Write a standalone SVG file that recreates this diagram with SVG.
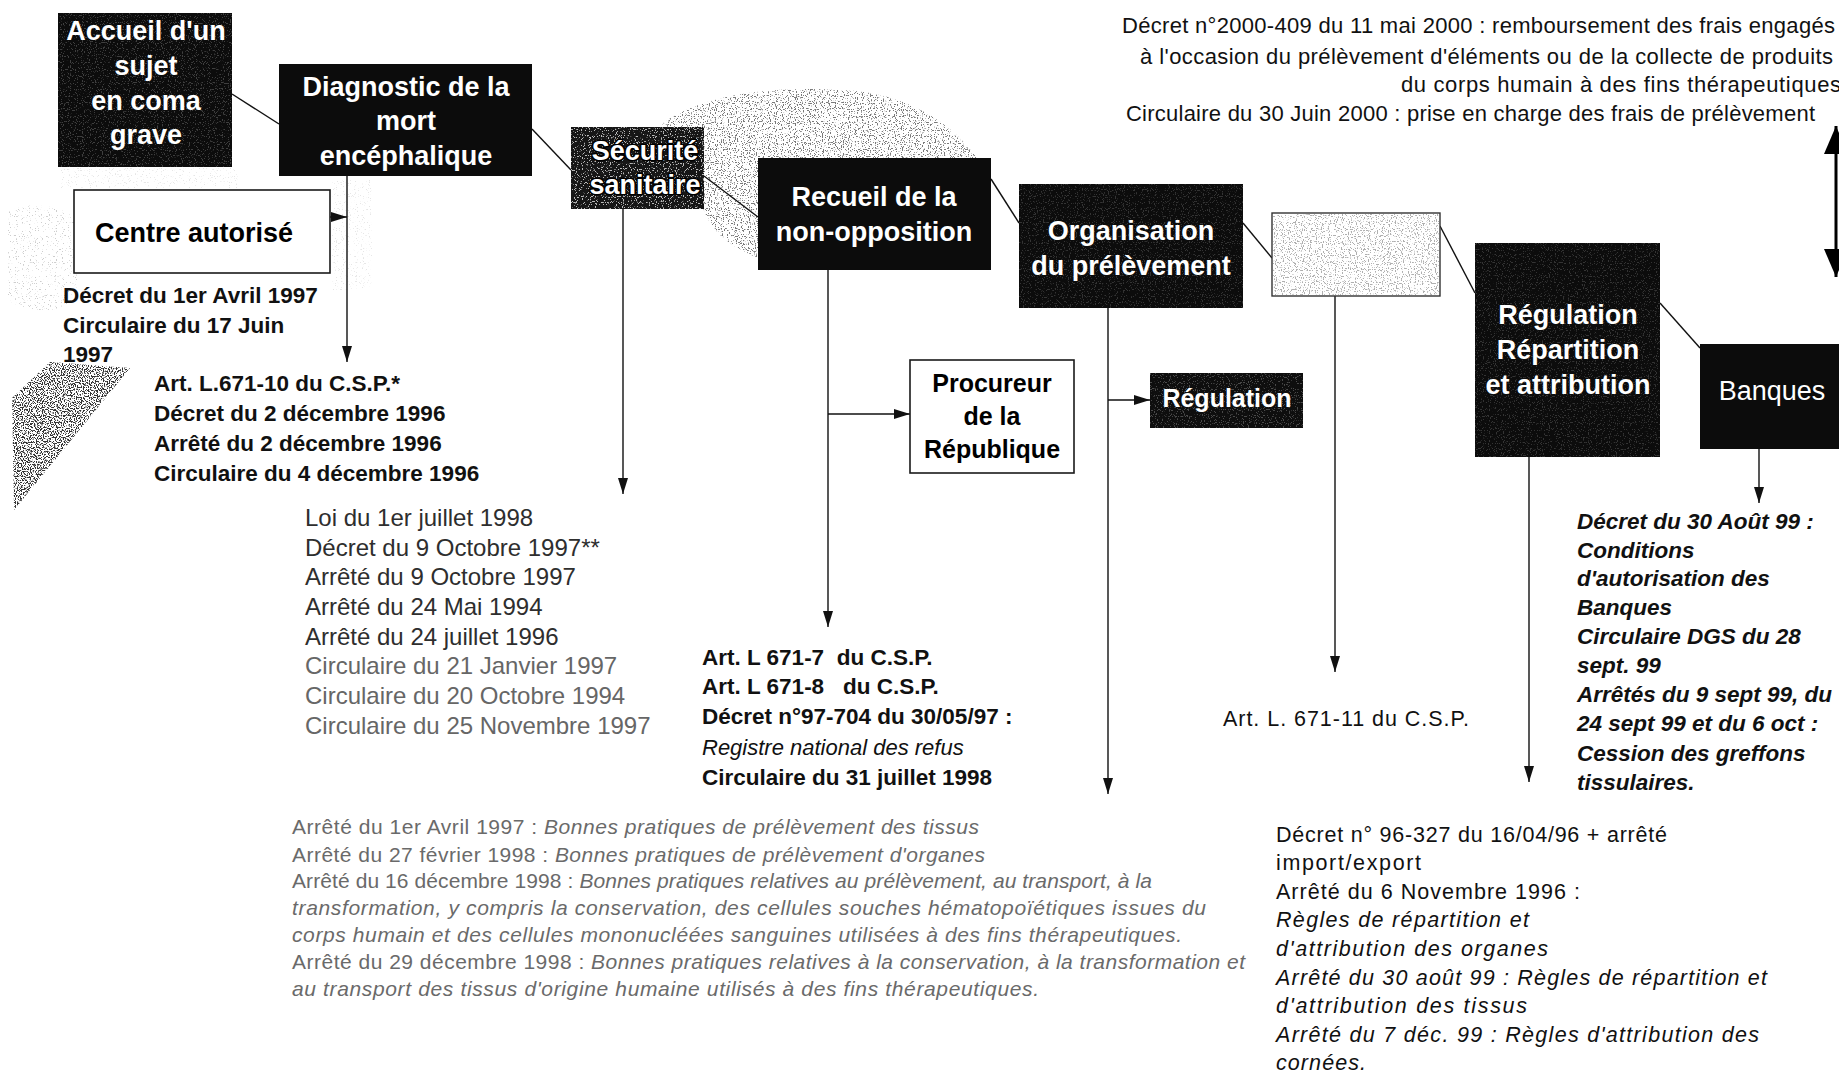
<svg xmlns="http://www.w3.org/2000/svg" width="1839" height="1074" viewBox="0 0 1839 1074">
<defs>
<style>
text{font-family:"Liberation Sans",Arial,Helvetica,sans-serif}
.dk{fill:#0c0c0c}
.wb{fill:#fff;stroke:#1a1a1a;stroke-width:1.6}
.nl{font-size:27px;font-weight:bold;fill:#fff;text-anchor:middle}
.nlr{font-size:27px;fill:#fff;text-anchor:middle}
.nlb{font-size:25px;font-weight:bold;fill:#000;text-anchor:middle}
.c{stroke:#111;stroke-width:1.4;fill:none}
.ca{stroke:#111;stroke-width:1.4;fill:none;marker-end:url(#ah)}
.tb{font-size:22.5px;font-weight:bold;fill:#111}
.tr{font-size:21.5px;fill:#111}
.ti{font-style:italic}
.g1{font-size:24px;fill:#2e2e2e}
.g2{font-size:24px;fill:#666}
.bt{font-size:21px;fill:#6a6a6a}
.bi{font-size:22.5px;font-weight:bold;font-style:italic;fill:#111}
.top{font-size:22px;fill:#111}
</style>
<marker id="ah" markerUnits="userSpaceOnUse" markerWidth="16" markerHeight="10" refX="16" refY="5" orient="auto"><path d="M0,0 L16,5 L0,10 Z" fill="#111"/></marker>
<marker id="big" markerUnits="userSpaceOnUse" markerWidth="28" markerHeight="24" refX="28" refY="12" orient="auto-start-reverse"><path d="M0,0 L28,12 L0,24 Z" fill="#000"/></marker>
<filter id="fDark" x="0" y="0" width="1" height="1" color-interpolation-filters="sRGB">
<feTurbulence type="fractalNoise" baseFrequency="0.85" numOctaves="1" seed="3"/>
<feColorMatrix type="matrix" values="0 0 0 0 0.2 0 0 0 0 0.2 0 0 0 0 0.2 0 0 0 14 -7.0"/>
<feComposite in2="SourceGraphic" operator="in"/>
</filter>
<filter id="fMid" x="0" y="0" width="1" height="1" color-interpolation-filters="sRGB">
<feTurbulence type="fractalNoise" baseFrequency="0.85" numOctaves="1" seed="9"/>
<feColorMatrix type="matrix" values="0 0 0 0 0.3 0 0 0 0 0.3 0 0 0 0 0.3 0 0 0 14 -7.9"/>
<feComposite in2="SourceGraphic" operator="in"/>
</filter>
<filter id="fSparse" x="0" y="0" width="1" height="1" color-interpolation-filters="sRGB">
<feTurbulence type="fractalNoise" baseFrequency="0.85" numOctaves="1" seed="5"/>
<feColorMatrix type="matrix" values="0 0 0 0 0.35 0 0 0 0 0.35 0 0 0 0 0.35 0 0 0 14 -8.9"/>
<feComposite in2="SourceGraphic" operator="in"/>
</filter>
<filter id="fLight" x="0" y="0" width="1" height="1" color-interpolation-filters="sRGB">
<feTurbulence type="fractalNoise" baseFrequency="0.85" numOctaves="1" seed="11"/>
<feColorMatrix type="matrix" values="0 0 0 0 0.85 0 0 0 0 0.85 0 0 0 0 0.85 0 0 0 14 -8.2"/>
<feComposite in2="SourceGraphic" operator="in"/>
</filter>
</defs>
<rect width="1839" height="1074" fill="#fff"/>

<g id="textures">
<path d="M702,205 C690,160 680,135 662,124 C700,95 770,86 840,90 C910,92 965,128 990,180 L758,180 L758,258 C735,248 712,236 702,205 Z" fill="#000" fill-opacity="0.75" filter="url(#fMid)"/>
<path d="M8,212 C30,200 62,205 76,220 L78,300 C60,312 30,315 8,300 Z" fill="#000" fill-opacity="0.3" filter="url(#fSparse)"/>
<polygon points="50,362 130,368 14,510 12,398" fill="#000" filter="url(#fDark)"/>
<rect x="60" y="168" width="180" height="20" fill="#000" fill-opacity="0.15" filter="url(#fSparse)"/>
<rect x="332" y="180" width="40" height="110" fill="#000" fill-opacity="0.15" filter="url(#fSparse)"/>
</g>

<g id="connectors">
<line class="c" x1="232" y1="94" x2="279" y2="124"/>
<line class="c" x1="532" y1="129" x2="571" y2="170"/>
<line class="c" x1="704" y1="176" x2="758" y2="217"/>
<line class="c" x1="991" y1="179" x2="1019" y2="223"/>
<line class="c" x1="1243" y1="223" x2="1272" y2="258"/>
<line class="c" x1="1440" y1="226" x2="1475" y2="293"/>
<line class="c" x1="1660" y1="303" x2="1700" y2="348"/>
<line class="ca" x1="330" y1="217" x2="347" y2="217"/>
<line class="ca" x1="347" y1="176" x2="347" y2="362"/>
<line class="ca" x1="623" y1="209" x2="623" y2="494"/>
<line class="ca" x1="828" y1="270" x2="828" y2="627"/>
<line class="ca" x1="828" y1="414" x2="910" y2="414"/>
<line class="ca" x1="1108" y1="308" x2="1108" y2="794"/>
<line class="ca" x1="1108" y1="400" x2="1150" y2="400"/>
<line class="ca" x1="1335" y1="296" x2="1335" y2="672"/>
<line class="ca" x1="1529" y1="457" x2="1529" y2="782"/>
<line class="ca" x1="1759" y1="449" x2="1759" y2="503"/>
<line x1="1836" y1="277" x2="1836" y2="126" stroke="#000" stroke-width="3" marker-start="url(#big)" marker-end="url(#big)"/>
</g>

<g id="n-accueil">
<rect class="dk" x="58" y="13" width="174" height="154"/>
<rect x="58" y="13" width="174" height="154" fill="#000" fill-opacity="0.25" filter="url(#fLight)"/>
<text class="nl"><tspan x="146" y="40">Accueil d'un</tspan><tspan x="146" y="75">sujet</tspan><tspan x="146" y="110">en coma</tspan><tspan x="146" y="144">grave</tspan></text>
</g>

<g id="n-diagnostic">
<rect class="dk" x="279" y="64" width="253" height="112"/>
<text class="nl"><tspan x="406" y="96">Diagnostic de la</tspan><tspan x="406" y="130">mort</tspan><tspan x="406" y="165">encéphalique</tspan></text>
</g>

<g id="n-centre">
<rect class="wb" x="74" y="190" width="256" height="83"/>
<text class="nlb" style="font-size:27px" x="194" y="242">Centre autorisé</text>
</g>

<g id="n-securite">
<rect x="571" y="127" width="133" height="82" fill="#161616"/>
<rect x="571" y="127" width="133" height="82" fill="#000" fill-opacity="0.85" filter="url(#fLight)"/>
<text class="nl" stroke="#000" stroke-width="3" paint-order="stroke" stroke-linejoin="round"><tspan x="645" y="160">Sécurité</tspan><tspan x="645" y="194">sanitaire</tspan></text>
</g>

<g id="n-recueil">
<rect class="dk" x="758" y="158" width="233" height="112"/>
<text class="nl"><tspan x="874" y="206">Recueil de la</tspan><tspan x="874" y="241">non-opposition</tspan></text>
</g>

<g id="n-procureur">
<rect class="wb" x="910" y="360" width="164" height="113"/>
<text class="nlb"><tspan x="992" y="392">Procureur</tspan><tspan x="992" y="425">de la</tspan><tspan x="992" y="458">République</tspan></text>
</g>

<g id="n-organisation">
<rect class="dk" x="1019" y="184" width="224" height="124"/>
<rect x="1019" y="184" width="224" height="124" fill="#000" fill-opacity="0.2" filter="url(#fLight)"/>
<text class="nl"><tspan x="1131" y="240">Organisation</tspan><tspan x="1131" y="275">du prélèvement</tspan></text>
</g>

<g id="n-regulation">
<rect x="1150" y="373" width="153" height="55" fill="#0e0e0e"/>
<rect x="1150" y="373" width="153" height="55" fill="#000" fill-opacity="0.3" filter="url(#fLight)"/>
<text class="nl" style="font-size:25px" x="1227" y="407">Régulation</text>
</g>

<g id="n-blank">
<rect x="1272" y="213" width="168" height="83" fill="#fff" stroke="#333" stroke-width="1.4"/>
<rect x="1273" y="214" width="166" height="81" fill="#000" fill-opacity="0.45" filter="url(#fMid)"/>
</g>

<g id="n-repartition">
<rect class="dk" x="1475" y="243" width="185" height="214"/>
<rect x="1475" y="243" width="185" height="214" fill="#000" fill-opacity="0.2" filter="url(#fLight)"/>
<text class="nl"><tspan x="1568" y="324">Régulation</tspan><tspan x="1568" y="359">Répartition</tspan><tspan x="1568" y="394">et attribution</tspan></text>
</g>

<g id="n-banques">
<rect class="dk" x="1700" y="344" width="145" height="105"/>
<text class="nlr" x="1772" y="400">Banques</text>
</g>

<g id="text-top">
<text class="top" x="1122" y="33" textLength="713">Décret n°2000-409 du 11 mai 2000 : remboursement des frais engagés</text>
<text class="top" x="1140" y="64" textLength="693">à l'occasion du prélèvement d'éléments ou de la collecte de produits</text>
<text class="top" x="1401" y="92" textLength="440">du corps humain à des fins thérapeutiques</text>
<text class="top" x="1126" y="121" textLength="689">Circulaire du 30 Juin 2000 : prise en charge des frais de prélèvement</text>
</g>

<g id="text-centre">
<text class="tb"><tspan x="63" y="303">Décret du 1er Avril 1997</tspan><tspan x="63" y="333">Circulaire du 17 Juin</tspan><tspan x="63" y="362">1997</tspan></text>
</g>

<g id="text-diagnostic">
<text class="tb"><tspan x="154" y="391">Art. L.671-10 du C.S.P.*</tspan><tspan x="154" y="421">Décret du 2 décembre 1996</tspan><tspan x="154" y="451">Arrêté du 2 décembre 1996</tspan><tspan x="154" y="481">Circulaire du 4 décembre 1996</tspan></text>
</g>

<g id="text-securite">
<text class="g1"><tspan x="305" y="526">Loi du 1er juillet 1998</tspan><tspan x="305" y="556">Décret du 9 Octobre 1997**</tspan><tspan x="305" y="585">Arrêté du 9 Octobre 1997</tspan><tspan x="305" y="615">Arrêté du 24 Mai 1994</tspan><tspan x="305" y="645">Arrêté du 24 juillet 1996</tspan></text>
<text class="g2"><tspan x="305" y="674">Circulaire du 21 Janvier 1997</tspan><tspan x="305" y="704">Circulaire du 20 Octobre 1994</tspan><tspan x="305" y="734">Circulaire du 25 Novembre 1997</tspan></text>
</g>

<g id="text-recueil">
<text class="tb" xml:space="preserve" x="702" y="665">Art. L 671-7  du C.S.P.</text>
<text class="tb" xml:space="preserve" x="702" y="694">Art. L 671-8   du C.S.P.</text>
<text class="tb" x="702" y="724">Décret n°97-704 du 30/05/97 :</text>
<text class="tr ti" style="font-size:22px" x="702" y="755">Registre national des refus</text>
<text class="tb" x="702" y="785">Circulaire du 31 juillet 1998</text>
</g>

<g id="text-organisation">
<text class="bt" x="292" y="834" textLength="687">Arrêté du 1er Avril 1997 : <tspan class="ti">Bonnes pratiques de prélèvement des tissus</tspan></text>
<text class="bt" x="292" y="862" textLength="693">Arrêté du 27 février 1998 : <tspan class="ti">Bonnes pratiques de prélèvement d'organes</tspan></text>
<text class="bt" x="292" y="888" textLength="860">Arrêté du 16 décembre 1998 : <tspan class="ti">Bonnes pratiques relatives au prélèvement, au transport, à la</tspan></text>
<text class="bt ti" x="292" y="915" textLength="914">transformation, y compris la conservation, des cellules souches hématopoïétiques issues du</text>
<text class="bt ti" x="292" y="942" textLength="890">corps humain et des cellules mononucléées sanguines utilisées à des fins thérapeutiques.</text>
<text class="bt" x="292" y="969" textLength="953">Arrêté du 29 décembre 1998 : <tspan class="ti">Bonnes pratiques relatives à la conservation, à la transformation et</tspan></text>
<text class="bt ti" x="292" y="996" textLength="747">au transport des tissus d'origine humaine utilisés à des fins thérapeutiques.</text>
</g>

<g id="text-blank">
<text class="tr" x="1223" y="726" textLength="246">Art. L. 671-11 du C.S.P.</text>
</g>

<g id="text-repartition">
<text class="tr" x="1276" y="842" textLength="391">Décret n° 96-327 du 16/04/96 + arrêté</text>
<text class="tr" x="1276" y="870" textLength="145">import/export</text>
<text class="tr" x="1276" y="899" textLength="304">Arrêté du 6 Novembre 1996 :</text>
<text class="tr ti" x="1276" y="927" textLength="253">Règles de répartition et</text>
<text class="tr ti" x="1276" y="956" textLength="272">d'attribution des organes</text>
<text class="tr ti" x="1276" y="985" textLength="491">Arrêté du 30 août 99 : Règles de répartition et</text>
<text class="tr ti" x="1276" y="1013" textLength="251">d'attribution des tissus</text>
<text class="tr ti" x="1276" y="1042" textLength="483">Arrêté du 7 déc. 99 : Règles d'attribution des</text>
<text class="tr ti" x="1276" y="1070" textLength="90">cornées.</text>
</g>

<g id="text-banques">
<text class="bi"><tspan x="1577" y="529">Décret du 30 Août 99 :</tspan><tspan x="1577" y="558">Conditions</tspan><tspan x="1577" y="586">d'autorisation des</tspan><tspan x="1577" y="615">Banques</tspan><tspan x="1577" y="644">Circulaire DGS du 28</tspan><tspan x="1577" y="673">sept. 99</tspan><tspan x="1577" y="702">Arrêtés du 9 sept 99, du</tspan><tspan x="1577" y="731">24 sept 99 et du 6 oct :</tspan><tspan x="1577" y="761">Cession des greffons</tspan><tspan x="1577" y="790">tissulaires.</tspan></text>
</g>
</svg>
